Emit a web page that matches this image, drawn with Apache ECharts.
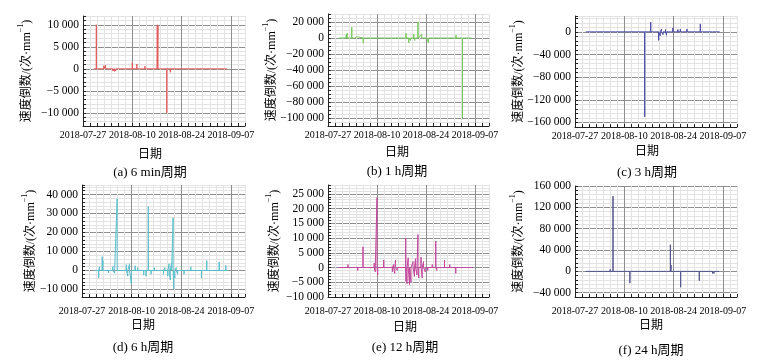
<!DOCTYPE html>
<html><head><meta charset="utf-8">
<script src="https://cdn.jsdelivr.net/npm/echarts@6/dist/echarts.min.js"></script>
<style>html,body{margin:0;padding:0;background:#fff}#c{width:758px;height:363px}</style>
</head><body><div id="c"></div>
<script>
// ---------- data ----------
const xTickLabels = ['2018-07-27', '2018-08-10', '2018-08-24', '2018-09-07'];
const captions = ['(a) 6 min周期', '(b) 1 h周期', '(c) 3 h周期', '(d) 6 h周期', '(e) 12 h周期', '(f) 24 h周期'];
const xTitle = '日期';

const aYTicks = [-10000, -5000, 0, 5000, 10000];
const bYTicks = [-100000, -80000, -60000, -40000, -20000, 0, 20000];
const cYTicks = [-160000, -120000, -80000, -40000, 0];
const dYTicks = [-10000, 0, 10000, 20000, 30000, 40000];
const eYTicks = [-10000, -5000, 0, 5000, 10000, 15000, 20000, 25000];
const fYTicks = [-40000, 0, 40000, 80000, 120000, 160000];

const aTime = ['2018-07-30 02:00','2018-07-30 19:00','2018-08-01 22:00','2018-08-02 10:00','2018-08-03 10:00','2018-08-04 12:00','2018-08-04 22:00','2018-08-05 07:00','2018-08-05 19:00','2018-08-07 19:00','2018-08-10 00:00','2018-08-10 07:00','2018-08-11 07:00','2018-08-12 14:00','2018-08-13 14:00','2018-08-14 17:00','2018-08-17 02:00','2018-08-17 07:00','2018-08-18 14:00','2018-08-19 19:00','2018-08-20 19:00','2018-08-22 12:00','2018-08-24 07:00','2018-08-27 17:00','2018-08-30 19:00','2018-09-05 14:00','2018-09-05 22:00'];
const aValue = [0,10000,700,800,-300,-500,-600,-500,-300,-200,1400,-400,1100,-300,600,-400,10000,9900,-200,-10000,-800,300,200,-400,-200,200,0];

const bTime = ['2018-07-30 02:00','2018-08-01 05:00','2018-08-01 12:00','2018-08-02 19:00','2018-08-03 14:00','2018-08-04 00:00','2018-08-04 05:00','2018-08-06 02:00','2018-08-06 19:00','2018-08-10 19:00','2018-08-12 17:00','2018-08-18 07:00','2018-08-19 02:00','2018-08-19 14:00','2018-08-19 22:00','2018-08-20 12:00','2018-08-20 19:00','2018-08-21 17:00','2018-08-22 07:00','2018-08-22 19:00','2018-08-24 05:00','2018-08-24 17:00','2018-08-26 17:00','2018-08-27 14:00','2018-09-01 14:00','2018-09-03 10:00','2018-09-06 00:00'];
const bValue = [0,4000,6000,13500,2000,-1500,1500,-6000,1000,-700,-800,6000,-6000,-3000,2000,5000,-3000,20000,2000,5000,1000,-6000,2000,1000,3500,-100000,0];

const cTime = ['2018-07-30 02:00','2018-07-31 19:00','2018-08-01 12:00','2018-08-04 12:00','2018-08-06 05:00','2018-08-07 14:00','2018-08-08 19:00','2018-08-11 02:00','2018-08-13 12:00','2018-08-15 19:00','2018-08-17 12:00','2018-08-18 14:00','2018-08-19 18:00','2018-08-20 05:00','2018-08-20 14:00','2018-08-21 00:00','2018-08-21 17:00','2018-08-22 00:00','2018-08-22 10:00','2018-08-23 02:00','2018-08-23 19:00','2018-08-25 05:00','2018-08-25 22:00','2018-08-26 10:00','2018-08-27 19:00','2018-08-29 00:00','2018-08-31 14:00','2018-09-04 02:00','2018-09-06 02:00'];
const cValue = [0,-1500,-1500,-1000,-1000,-3500,-1000,-1000,1500,-150000,17000,1000,-15000,-7000,5000,-5000,4000,-6000,3000,2000,7000,4000,5000,2000,5000,2000,14000,1000,0];

const dTime = ['2018-07-30 14:00','2018-07-31 17:00','2018-07-31 22:00','2018-08-01 17:00','2018-08-01 22:00','2018-08-02 19:00','2018-08-03 12:00','2018-08-04 00:00','2018-08-04 17:00','2018-08-05 05:00','2018-08-05 17:00','2018-08-05 22:00','2018-08-06 19:00','2018-08-07 12:00','2018-08-08 12:00','2018-08-08 22:00','2018-08-09 10:00','2018-08-09 22:00','2018-08-10 02:00','2018-08-11 00:00','2018-08-11 17:00','2018-08-13 10:00','2018-08-14 02:00','2018-08-14 17:00','2018-08-15 12:00','2018-08-16 10:00','2018-08-17 19:00','2018-08-19 00:00','2018-08-19 10:00','2018-08-20 05:00','2018-08-20 14:00','2018-08-20 22:00','2018-08-21 07:00','2018-08-21 17:00','2018-08-21 22:00','2018-08-22 05:00','2018-08-22 14:00','2018-08-23 00:00','2018-08-24 19:00','2018-08-26 17:00','2018-08-27 05:00','2018-08-29 17:00','2018-08-31 05:00','2018-09-03 17:00','2018-09-05 14:00','2018-09-06 05:00'];
const dValue = [0,-4000,2000,7300,5000,-1000,-1200,-800,2000,-1500,-1000,37700,-800,1000,3000,-3000,3500,-7000,-1000,2500,1500,-2500,-3000,33700,-2000,1500,-1000,-2000,1500,-3000,3500,-5000,4000,27700,-9700,-4000,1500,-2000,-2000,2000,-1000,-4000,5200,4400,2600,0];

const eTime = ['2018-07-29 22:00','2018-08-01 17:00','2018-08-04 12:00','2018-08-06 00:00','2018-08-06 02:00','2018-08-07 10:00','2018-08-09 05:00','2018-08-09 12:00','2018-08-10 00:00','2018-08-10 05:00','2018-08-11 02:00','2018-08-11 22:00','2018-08-14 10:00','2018-08-14 17:00','2018-08-15 02:00','2018-08-15 07:00','2018-08-15 19:00','2018-08-18 05:00','2018-08-18 07:00','2018-08-18 14:00','2018-08-18 22:00','2018-08-19 07:00','2018-08-19 17:00','2018-08-20 07:00','2018-08-20 17:00','2018-08-21 00:00','2018-08-21 10:00','2018-08-21 17:00','2018-08-21 22:00','2018-08-22 14:00','2018-08-22 22:00','2018-08-23 07:00','2018-08-23 19:00','2018-08-24 12:00','2018-08-25 05:00','2018-08-25 19:00','2018-08-26 19:00','2018-08-27 02:00','2018-08-29 07:00','2018-08-30 19:00','2018-09-01 12:00','2018-09-03 14:00','2018-09-05 12:00','2018-09-06 10:00'];
const eValue = [0,1000,-1000,7000,-500,300,1500,-1500,23700,-2500,-300,2500,-1500,1000,-2000,2500,-1000,10000,-4700,-5500,3300,-5800,-5000,2000,-3000,3000,-2500,11200,-3500,3500,-3500,2000,-1500,-1000,500,1000,9000,-1000,2500,1000,-2000,500,300,0];

const fTime = ['2018-07-30 02:00','2018-08-06 00:00','2018-08-06 05:00','2018-08-06 19:00','2018-08-10 00:00','2018-08-10 10:00','2018-08-10 22:00','2018-08-11 14:00','2018-08-11 22:00','2018-08-14 22:00','2018-08-15 05:00','2018-08-18 19:00','2018-08-21 22:00','2018-08-22 10:00','2018-08-23 02:00','2018-08-23 07:00','2018-08-23 14:00','2018-08-26 00:00','2018-08-31 07:00','2018-09-04 02:00','2018-09-04 12:00','2018-09-05 22:00'];
const fValue = [0,4000,-3000,141000,2000,-2000,3000,-22000,2000,-2000,1500,-2000,2000,2000,50000,12000,2000,-29800,-17400,-4000,-4000,0];

// ---------- layout / style ----------
const SERIF = "'Liberation Serif','Times New Roman','Noto Sans CJK SC',serif";
const DARK = '#8f8f8f', LIGHT = '#e3e3e3', AXIS = '#222';
const panels = [
  {time:aTime, val:aValue, ticks:aYTicks, grid:{left:83, top:16, width:162, height:110}, min:-13000, max:12000, step:1000, major:5000, color:'#e35a5a', nameGap:50, xMargin:4, tx:150, ty:155, cy:173},
  {time:bTime, val:bValue, ticks:bYTicks, grid:{left:328, top:14, width:161, height:112}, min:-110000, max:30000, step:5000, major:20000, color:'#74c95a', nameGap:50, xMargin:4, tx:397, ty:153, cy:172},
  {time:cTime, val:cValue, ticks:cYTicks, grid:{left:575, top:16, width:162, height:111}, min:-168000, max:28000, step:8000, major:40000, color:'#4b4ba6', nameGap:50, xMargin:4, tx:647, ty:152, cy:173},
  {time:dTime, val:dValue, ticks:dYTicks, grid:{left:82, top:185, width:163, height:112}, min:-14000, max:45000, step:2000, major:10000, color:'#5bbfcc', nameGap:45, xMargin:9, tx:143, ty:326, cy:348},
  {time:eTime, val:eValue, ticks:eYTicks, grid:{left:328, top:185, width:161, height:112}, min:-10000, max:28000, step:1000, major:5000, color:'#c4489c', nameGap:47, xMargin:9, tx:405, ty:328, cy:348},
  {time:fTime, val:fValue, ticks:fYTicks, grid:{left:575, top:186, width:162, height:111}, min:-48000, max:160000, step:8000, major:40000, color:'#55558f', nameGap:50, xMargin:9, tx:651, ty:326, cy:351}
];

const T0 = Date.UTC(2018, 6, 27);
function dayOf(s) {
  const [d, t] = s.split(' ');
  const [Y, M, D] = d.split('-').map(Number);
  const [h, m] = (t || '00:00').split(':').map(Number);
  return (Date.UTC(Y, M - 1, D, h, m) - T0) / 86400000;
}
const xLabelDays = xTickLabels.map(dayOf);
function fmtNum(v) {
  const a = Math.abs(v).toString().replace(/\B(?=(\d{3})+(?!\d))/g, ' ');
  return (v < 0 ? '−' : '') + a;
}
function buildLine(times, vals) {
  const out = [];
  const eps = 0.01;
  for (let i = 0; i < times.length; i++) {
    const t = dayOf(times[i]);
    if (vals[i] === 0) { out.push([t, 0]); continue; }
    out.push([t - eps, 0], [t, vals[i]], [t + eps, 0]);
  }
  return out;
}

const grids = [], xAxes = [], yAxes = [], series = [], graphics = [];
panels.forEach((p, i) => {
  grids.push(Object.assign({outerBoundsMode: 'none', containLabel: false}, p.grid));
  const xCycle = [DARK, LIGHT, LIGHT, LIGHT, LIGHT, LIGHT, LIGHT];
  xAxes.push({
    type: 'value', gridIndex: i, min: 0, max: 46, interval: 2,
    axisLine: {show: true, onZero: false, lineStyle: {color: AXIS, width: 1}},
    axisTick: {show: true, inside: true, length: 3, lineStyle: {color: AXIS}},
    axisLabel: {
      margin: p.xMargin, fontFamily: SERIF, fontSize: 10, color: '#000',
      formatter: v => { const k = xLabelDays.findIndex(d => Math.abs(d - v) < 1e-6); return k >= 0 ? xTickLabels[k] : ''; }
    },
    splitLine: {show: true, lineStyle: {color: xCycle, width: 1}}
  });
  const cyc = Math.round(p.major / p.step), yCycle = [];
  for (let k = 0; k < cyc; k++) {
    const v = p.min + k * p.step;
    yCycle.push((((v % p.major) + p.major) % p.major) === 0 ? DARK : LIGHT);
  }
  yAxes.push({
    type: 'value', gridIndex: i, min: p.min, max: p.max, interval: p.step,
    axisLine: {show: true, onZero: false, lineStyle: {color: AXIS, width: 1}},
    axisTick: {show: true, inside: true, length: 3, lineStyle: {color: AXIS}},
    axisLabel: {
      margin: 4, fontFamily: SERIF, fontSize: 11.5, color: '#000',
      formatter: v => p.ticks.indexOf(v) >= 0 ? fmtNum(v) : ''
    },
    splitLine: {show: true, lineStyle: {color: yCycle, width: 1}},
    name: '{a|速度倒数/(次·mm}{s|−1}{a|)}',
    nameLocation: 'middle', nameGap: p.nameGap, nameMoveOverlap: false,
    nameTextStyle: {
      color: '#000',
      rich: {
        a: {fontFamily: SERIF, fontSize: 12, lineHeight: 16, verticalAlign: 'bottom', color: '#000'},
        s: {fontFamily: SERIF, fontSize: 8, lineHeight: 16, verticalAlign: 'top', color: '#000'}
      }
    }
  });
  series.push({
    type: 'line', xAxisIndex: i, yAxisIndex: i, data: buildLine(p.time, p.val),
    showSymbol: false, symbol: 'none', lineStyle: {color: p.color, width: 1}, itemStyle: {color: p.color},
    animation: false, clip: true, z: 5
  });
  graphics.push({type: 'text', x: p.tx, y: p.ty, style: {text: xTitle, fontFamily: SERIF, fontSize: 12, fill: '#000', align: 'center', verticalAlign: 'middle'}});
  graphics.push({type: 'text', x: p.tx, y: p.cy, style: {text: captions[i], fontFamily: SERIF, fontSize: 13, fill: '#000', align: 'center', verticalAlign: 'middle'}});
});

const chart = echarts.init(document.getElementById('c'), null, {renderer: 'canvas'});
chart.setOption({
  backgroundColor: '#fff', animation: false,
  grid: grids, xAxis: xAxes, yAxis: yAxes, series: series, graphic: graphics
});
</script></body></html>
